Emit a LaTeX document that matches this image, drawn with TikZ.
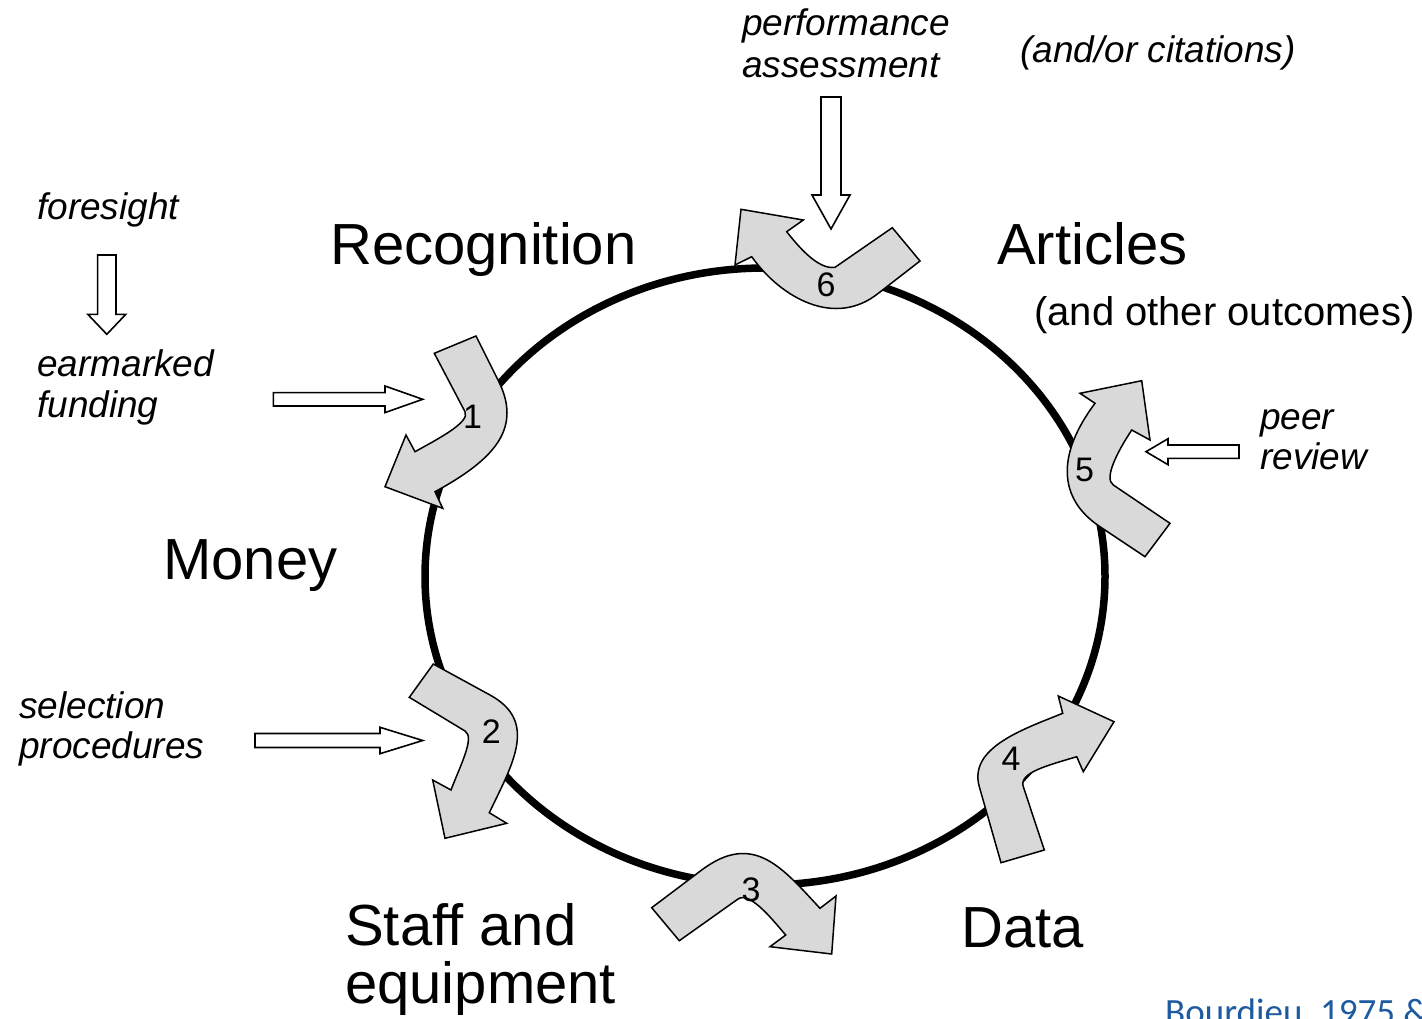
\documentclass[tikz,border=0pt]{standalone}
\usepackage{fontspec}
\setmainfont{Liberation Sans}
\newfontfamily\citefont{Carlito}
\usetikzlibrary{calc}
\definecolor{arrowgray}{RGB}{217,217,217}
\definecolor{citeblue}{RGB}{30,90,160}

% block arrow: from, to, half shaft, half head, head length
\newcommand{\blockarrow}[5]{%
  \coordinate (#1-h) at ($(#2)!#5!(#1)$);
  \draw[hollow] ($(#1)!#3!90:(#2)$) -- ($(#1-h)!#3!90:(#2)$) -- ($(#1-h)!#4!90:(#2)$) -- (#2)
    -- ($(#1-h)!#4!-90:(#2)$) -- ($(#1-h)!#3!-90:(#2)$) -- ($(#1)!#3!-90:(#2)$) -- cycle;
}

\begin{document}
\begin{tikzpicture}[x=1pt,y=-1pt]
\tikzstyle{big}=[font=\fontsize{58}{64}\selectfont, anchor=base west, inner sep=0pt]
\tikzstyle{small}=[font=\fontsize{37}{41}\selectfont\itshape, anchor=base west, inner sep=0pt]
\tikzstyle{num}=[font=\fontsize{34}{40}\selectfont, inner sep=0pt]
\tikzstyle{hollow}=[draw=black, fill=white, line width=1.6pt]
\tikzstyle{bent}=[draw=black, fill=arrowgray, line width=1.5pt]

\useasboundingbox (0,0) rectangle (1422,1018);

% the cycle
\draw[line width=7.5pt] (765,576.5) ellipse [x radius=340, y radius=308.5];

% curved steps
\draw[bent] (434.3,353.3) -- (476,336) -- (498,380) .. controls (522,427) and (497,458) .. (435,491.7)
  -- (442.7,508.3) -- (385,486.7) -- (406,435) -- (415,451.7) .. controls (436.8,439.5) and (470.6,422.3) .. (465,411.7) -- cycle;
\draw[bent] (409.3,697.3) -- (433.3,664) -- (490,695) .. controls (538.2,721.4) and (513,763.2) .. (489.3,812.7)
  -- (506.7,823.3) -- (445,838.3) -- (432.7,780) -- (451,790) .. controls (459.8,766.5) and (475.3,737.2) .. (465,731) -- cycle;
\draw[bent] (679.3,940.7) -- (651.7,907.7) -- (701.7,870) .. controls (753.7,831) and (782.6,868.2) .. (820,908.3)
  -- (836,896) -- (831.7,954) -- (770,946.7) -- (785.7,935) .. controls (775.8,923.8) and (750.2,890.3) .. (738,899) -- cycle;
\draw[bent] (1001,862.7) -- (1044.3,850) -- (1023.3,786.7) .. controls (1018.6,772.5) and (1047.9,765.4) .. (1076.7,756.7)
  -- (1083.3,771.7) -- (1114,721.7) -- (1058.3,696) -- (1062.7,713.3) .. controls (1020.9,730) and (968.5,748.3) .. (979.3,786.7) -- cycle;
\draw[bent] (1141.7,380.7) -- (1080,393.3) -- (1095,403.3) .. controls (1056,455.3) and (1058.5,499.2) .. (1100,526.7)
  -- (1145,556.7) -- (1170,523.3) -- (1113.3,485) .. controls (1103.3,478.3) and (1118,450.8) .. (1131.7,430) -- (1150,440) -- cycle;
\draw[bent] (741,209.3) -- (803.3,220) -- (786.7,231.7) .. controls (798,246) and (818,270) .. (835,267.3)
  -- (892.3,227.7) -- (920,261) -- (878.3,293.3) .. controls (834.8,328) and (781,298) .. (751.7,256.7) -- (735,265) -- cycle;

\node[num] (n1) at (472.5,416.7) {1};
\node[num] (n2) at (491.3,731.7) {2};
\node[num] (n3) at (751,889.5) {3};
\node[num] (n4) at (1011,758.7) {4};
\node[num] (n5) at (1084.5,470) {5};
\node[num] (n6) at (826,285) {6};

% stages
\node[big] (recog) at (330,264) {Recognition};
\node[big] (art) at (997,264) {Articles};
\node[anchor=base west, inner sep=0pt, font=\fontsize{40}{44}\selectfont] (other) at (1034,325) {(and other outcomes)};
\node[big] (money) at (163,579) {Money};
\node[big] (staff1) at (345,945) {Staff and};
\node[big] (staff2) at (345,1003) {equipment};
\node[big] (data) at (961,947) {Data};

% inputs
\node[small] (perf1) at (742,35) {performance};
\node[small] (perf2) at (742,77) {assessment};
\node[small] (cite) at (1020,62) {(and/or citations)};
\node[small] (fore) at (37,219) {foresight};
\node[small] (ear1) at (37,376) {earmarked};
\node[small] (ear2) at (37,417) {funding};
\node[small] (sel1) at (19,718) {selection};
\node[small] (sel2) at (19,758) {procedures};
\node[small] (peer1) at (1260,429) {peer};
\node[small] (peer2) at (1260,469) {review};

\coordinate (perfA) at (831,97);      \coordinate (perfB) at (831,229);
\coordinate (foreA) at (106.8,255);   \coordinate (foreB) at (106.8,334.3);
\coordinate (earA) at (273.3,399.3);  \coordinate (earB) at (422.7,399.3);
\coordinate (selA) at (255,740.5);    \coordinate (selB) at (422.7,740.5);
\coordinate (peerA) at (1239,451.7);  \coordinate (peerB) at (1146,451.7);
\blockarrow{perfA}{perfB}{10pt}{19pt}{34pt}
\blockarrow{foreA}{foreB}{9.2pt}{19pt}{20pt}
\blockarrow{earA}{earB}{6.7pt}{13.3pt}{37.7pt}
\blockarrow{selA}{selB}{7pt}{13.2pt}{42.7pt}
\blockarrow{peerA}{peerB}{6.7pt}{13pt}{22pt}

\node[anchor=base west, inner sep=0pt, text=citeblue, font=\citefont\fontsize{37}{42}\selectfont] (ref) at (1165,1024) {Bourdieu, 1975 \&};
\end{tikzpicture}
\end{document}
